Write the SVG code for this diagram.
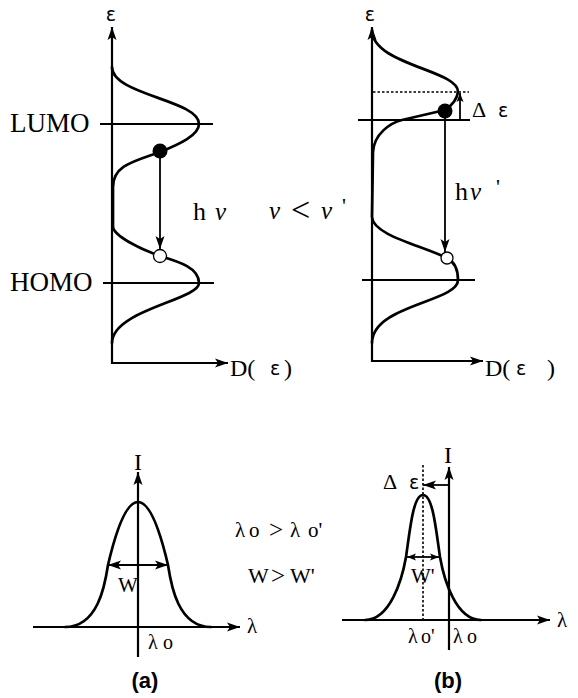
<svg xmlns="http://www.w3.org/2000/svg" width="578" height="698" viewBox="0 0 578 698">
<style>
.crv{fill:none;stroke:#000;stroke-width:2.7;stroke-linecap:round;stroke-linejoin:round}
.ax{fill:none;stroke:#000;stroke-width:2.2}
.ln{fill:none;stroke:#000;stroke-width:1.8}
.dot{fill:none;stroke:#000;stroke-width:1.6;stroke-dasharray:2.5 2}
.t{font-family:"Liberation Serif","Times New Roman",serif;fill:#000}
.g{font-family:"Liberation Serif","Times New Roman",serif;font-style:italic;fill:#000}
.s{font-family:"DejaVu Sans","Liberation Sans",sans-serif;fill:#000}
.b{font-family:"Liberation Sans",Arial,sans-serif;font-weight:bold;fill:#000}
</style>
<defs>
<marker id="ah" markerUnits="userSpaceOnUse" markerWidth="14" markerHeight="10" refX="13" refY="5" orient="auto-start-reverse">
<path d="M0,0.5 L13,5 L0,9.5 L3,5 z" fill="#000"/>
</marker>
<marker id="ahs" markerUnits="userSpaceOnUse" markerWidth="10" markerHeight="8" refX="9" refY="4" orient="auto-start-reverse">
<path d="M0,0.5 L9,4 L0,7.5 L2,4 z" fill="#000"/>
</marker>
</defs>

<g id="dos-left">
<path class="crv" d="M112,67 C112,95 199,100 199,124 C199,135 180,144 160,152 C135,161 113,165 113,187 L113,227 C114,236 140,249 160,256 C180,262 199,268 199,283 C199,300 112,310 112,343"/>
<line class="ln" x1="100" y1="124" x2="213" y2="124"/>
<line class="ln" x1="103" y1="283" x2="214" y2="283"/>
<circle cx="160" cy="151" r="7.5" fill="#000"/>
<circle cx="160" cy="256" r="6.5" fill="#fff" stroke="#000" stroke-width="1.3"/>
<text class="t" x="10" y="132" font-size="27">LUMO</text>
<text class="t" x="10" y="291" font-size="27">HOMO</text>
<text class="s" x="111" y="21" font-size="19" text-anchor="middle">ε</text>
<text class="t" x="230" y="376" font-size="24">D(</text>
<text class="s" x="270" y="375" font-size="19">ε</text>
<text class="t" x="284" y="376" font-size="24">)</text>
<text class="t" x="193" y="220" font-size="26">h</text>
<text class="g" x="215" y="220" font-size="25">ν</text>
</g>

<g id="relation-top">
<text class="g" x="269" y="219" font-size="25">ν</text>
<text class="t" x="291" y="221" font-size="34">&lt;</text>
<text class="g" x="321" y="219" font-size="25">ν</text>
<text class="t" x="342" y="213" font-size="22">'</text>
</g>

<g id="dos-right">
<path class="crv" d="M372,30 C372,65 459,70 458,92 C457,100 451,106 445,110 L402,120 C390,123 374,134 373,152 L372,217 C373,235 420,245 447,258 C455,262 458,270 458,280 C458,302 372,305 372,343"/>
<line class="ln" x1="358" y1="120" x2="470" y2="120"/>
<line class="ln" x1="362" y1="280" x2="475" y2="280"/>
<line class="dot" x1="373" y1="92" x2="469" y2="92"/>
<circle cx="445" cy="111" r="7.5" fill="#000"/>
<circle cx="447" cy="258" r="6" fill="#fff" stroke="#000" stroke-width="1.3"/>
<text class="s" x="370" y="21" font-size="19" text-anchor="middle">ε</text>
<text class="t" x="485" y="376" font-size="24">D(</text>
<text class="s" x="516" y="375" font-size="19">ε</text>
<text class="t" x="547" y="376" font-size="24">)</text>
<text class="t" x="455" y="200" font-size="26">h</text>
<text class="g" x="470" y="200" font-size="25">ν</text>
<text class="t" x="496" y="194" font-size="22">'</text>
<text class="t" x="472" y="117" font-size="22">Δ</text>
<text class="s" x="498" y="117" font-size="19">ε</text>
</g>

<g id="spectrum-a">
<path class="crv" d="M65,627 C98,627 105,585 108,565 C115,535 125,502 138,502 C151,502 161,535 168,565 C171,585 178,627 211,627"/>
<text class="t" x="138" y="470" font-size="24" text-anchor="middle">I</text>
<text class="t" x="247" y="633" font-size="21">λ</text>
<text class="t" x="118" y="592" font-size="21">W</text>
<text class="t" x="148" y="649" font-size="20">λ</text>
<text class="t" x="163" y="649" font-size="20">o</text>
<text class="b" x="145" y="688" font-size="22" text-anchor="middle">(a)</text>
</g>

<g id="relation-bottom">
<text class="t" x="235" y="537" font-size="21">λ</text>
<text class="t" x="249" y="537" font-size="21">o</text>
<text class="t" x="269" y="538" font-size="25">&gt;</text>
<text class="t" x="290" y="537" font-size="21">λ</text>
<text class="t" x="308" y="537" font-size="21">o'</text>
<text class="t" x="248" y="583" font-size="22">W</text>
<text class="t" x="271" y="584" font-size="25">&gt;</text>
<text class="t" x="290" y="583" font-size="22">W'</text>
</g>

<g id="spectrum-b">
<path class="crv" d="M365,620 C390,620 402,580 406,557 C410,530 413,495 423,495 C433,495 436,530 440,557 C444,580 456,620 481,620"/>
<line class="dot" x1="423" y1="465" x2="423" y2="620"/>
<text class="t" x="448" y="463" font-size="24" text-anchor="middle">I</text>
<text class="t" x="383" y="489" font-size="22">Δ</text>
<text class="s" x="409" y="489" font-size="19">ε</text>
<text class="t" x="411" y="583" font-size="21">W'</text>
<text class="t" x="408" y="643" font-size="20">λ</text>
<text class="t" x="421" y="643" font-size="20">o'</text>
<text class="t" x="453" y="643" font-size="20">λ</text>
<text class="t" x="467" y="643" font-size="20">o</text>
<text class="t" x="557" y="627" font-size="21">λ</text>
<text class="b" x="448" y="688" font-size="22" text-anchor="middle">(b)</text>
</g>

<g id="connectors">
<polyline class="ax" points="112,27 112,363 228,363" marker-start="url(#ah)" marker-end="url(#ah)"/>
<polyline class="ax" points="372,27 372,361 483,361" marker-start="url(#ah)" marker-end="url(#ah)"/>
<line class="ln" x1="160" y1="158" x2="160" y2="249" marker-end="url(#ah)"/>
<line class="ln" x1="445" y1="118" x2="445" y2="252" marker-end="url(#ah)"/>
<line class="ln" x1="460" y1="120" x2="460" y2="93" marker-end="url(#ahs)"/>
<line class="ax" x1="33" y1="627" x2="240" y2="627" marker-end="url(#ah)"/>
<line class="ax" x1="138" y1="657" x2="138" y2="472" marker-end="url(#ah)"/>
<line class="ln" x1="108" y1="565" x2="168" y2="565" marker-start="url(#ah)" marker-end="url(#ah)"/>
<line class="ax" x1="342" y1="620" x2="550" y2="620" marker-end="url(#ah)"/>
<line class="ax" x1="449" y1="650" x2="449" y2="467" marker-end="url(#ah)"/>
<line class="ln" x1="449" y1="485" x2="423" y2="485" marker-end="url(#ah)"/>
<line class="ln" x1="407" y1="557" x2="439" y2="557" marker-start="url(#ahs)" marker-end="url(#ahs)"/>
</g>
</svg>
